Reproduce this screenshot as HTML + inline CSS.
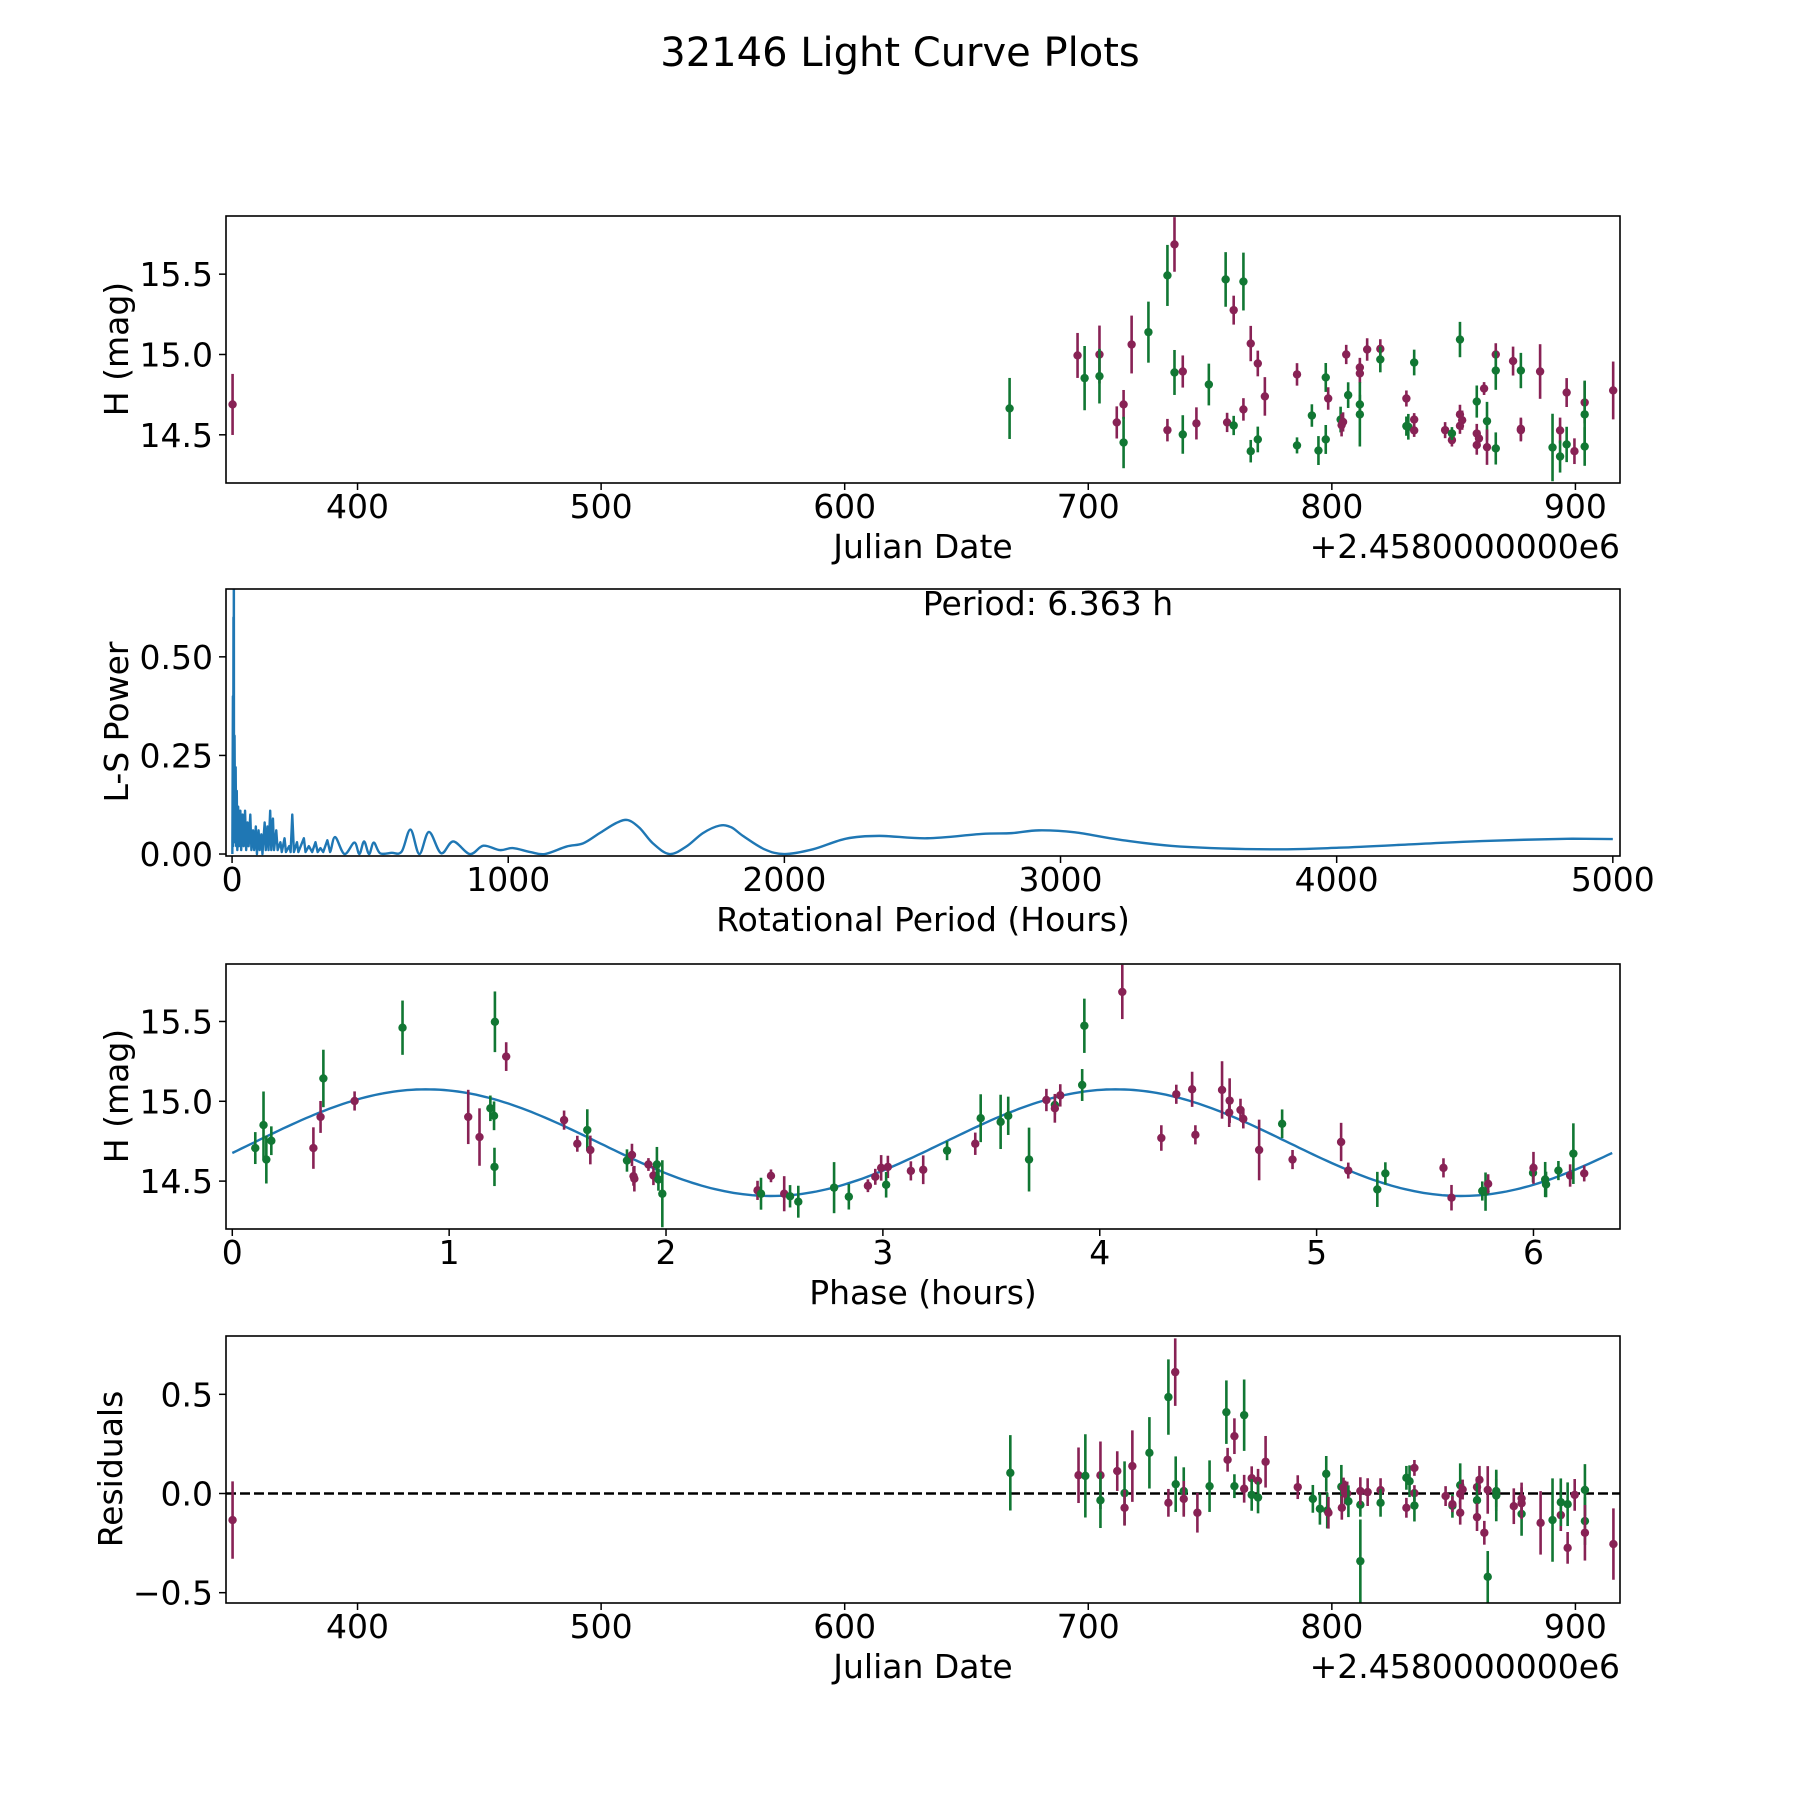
<!DOCTYPE html>
<html><head><meta charset="utf-8"><style>
html,body{margin:0;padding:0;background:#fff;}
svg{display:block;font-family:"DejaVu Sans","Liberation Sans",sans-serif;}
</style></head><body>
<svg id="fig" width="1800" height="1800" viewBox="0 0 1800 1800" xmlns="http://www.w3.org/2000/svg">
<rect width="1800" height="1800" fill="#fff"/>
<text x="900" y="66" font-size="40" text-anchor="middle">32146 Light Curve Plots</text>
</svg>
<script>
// ---- Panel 1: light curve ----
const lcDate=[348.7,667.7,695.6,698.5,704.6,704.6,711.7,714.5,714.5,717.8,724.7,732.5,732.5,735.4,735.4,738.8,738.8,744.4,749.5,756.4,757.0,759.7,759.7,763.7,763.7,766.7,766.7,769.6,769.6,772.5,785.7,785.7,791.8,794.5,797.5,798.5,797.5,803.6,804.0,804.6,805.9,806.7,811.5,811.5,811.5,811.5,814.5,819.9,819.9,830.6,830.6,831.4,833.8,833.8,833.8,846.5,849.3,849.3,852.6,852.6,853.5,852.6,859.5,859.5,860.4,859.5,862.5,863.7,863.7,867.3,867.3,867.3,874.4,877.6,877.6,877.6,885.5,890.6,893.7,893.7,896.4,896.4,899.6,903.8,903.8,903.8,915.5];
const lcMag=[14.689,14.664,14.994,14.853,15.0,14.865,14.577,14.689,14.452,15.062,15.139,15.492,14.529,15.685,14.888,14.894,14.502,14.571,14.813,15.467,14.577,15.276,14.558,15.454,14.658,15.068,14.398,14.944,14.471,14.739,14.876,14.434,14.620,14.402,14.857,14.726,14.471,14.595,14.560,14.58,15.0,14.747,14.919,14.882,14.689,14.627,15.031,15.035,14.969,14.726,14.554,14.55,14.595,14.527,14.950,14.529,14.467,14.508,15.093,14.627,14.591,14.556,14.707,14.508,14.477,14.436,14.788,14.585,14.423,15.0,14.900,14.415,14.959,14.900,14.537,14.529,14.894,14.421,14.527,14.365,14.763,14.44,14.398,14.701,14.627,14.427,14.776];
const lcErr=[0.19,0.19,0.14,0.20,0.18,0.17,0.10,0.09,0.16,0.18,0.19,0.19,0.07,0.17,0.14,0.10,0.12,0.10,0.13,0.17,0.06,0.09,0.06,0.18,0.07,0.11,0.07,0.08,0.08,0.12,0.07,0.05,0.07,0.09,0.09,0.07,0.09,0.08,0.07,0.06,0.06,0.08,0.06,0.06,0.06,0.20,0.07,0.06,0.08,0.05,0.06,0.08,0.04,0.04,0.08,0.05,0.04,0.04,0.11,0.06,0.06,0.05,0.10,0.06,0.05,0.06,0.04,0.12,0.11,0.07,0.12,0.10,0.09,0.11,0.07,0.07,0.17,0.21,0.08,0.10,0.09,0.11,0.08,0.13,0.21,0.12,0.18];
const lcBand="mgmgmgmmgm"+"ggmmgmgmgg"+"mmggmmgmgm"+"mggggmggmm"+"mgmmggmmgm"+"ggmmgmmggm"+"mmgmmmmgmm"+"ggmgmmmgmg"+"mgmmggm";
const dateTicks=[400,500,600,700,800,900];
const magTicks=[14.5,15.0,15.5];
const magTickLabels=["14.5","15.0","15.5"];

// ---- Panel 2: periodogram ----
const lsPeriod=[1,3,4,5,6,6.363,7,9,11,13,15,17,19,22,25,30,33,38,42,47,51,56,60,66,70,76,80,86,90,96,100,106,110,118,122,128,132,138,142,148,152,160,165,175,180,190,195,207,212,218,224,235,240,260,266,278,290,302,310,320,330,345,355,373,407,443,461,478,496,513,536,578,614,646,678,713,757,801,861,910,970,1016,1080,1133,1211,1271,1331,1392,1434,1476,1524,1584,1645,1705,1765,1807,1852,1928,2000,2103,2223,2343,2517,2714,2823,2921,3052,3216,3434,3762,4008,4307,4526,4853,5000];
const lsPower=[0.0,0.40,0.02,0.60,0.05,0.95,0.05,0.30,0.03,0.22,0.02,0.16,0.01,0.12,0.02,0.11,0.01,0.10,0.02,0.11,0.01,0.08,0.02,0.10,0.01,0.06,0.01,0.07,0.0,0.06,0.01,0.05,0.0,0.08,0.01,0.07,0.01,0.11,0.01,0.09,0.01,0.06,0.01,0.03,0.005,0.04,0.005,0.02,0.005,0.10,0.005,0.03,0.005,0.04,0.005,0.02,0.005,0.03,0.005,0.015,0.005,0.035,0.005,0.043,0.0,0.029,0.0,0.032,0.0,0.029,0.002,0.003,0.006,0.062,0.0,0.056,0.002,0.032,0.0,0.021,0.010,0.015,0.005,0.0,0.019,0.027,0.053,0.079,0.086,0.066,0.027,0.0,0.019,0.053,0.072,0.068,0.045,0.012,0.0,0.012,0.039,0.046,0.040,0.051,0.053,0.060,0.055,0.036,0.019,0.012,0.016,0.026,0.033,0.039,0.038];
const periodTicks=[0,1000,2000,3000,4000,5000];
const powerTicks=[0,0.25,0.5];
const powerTickLabels=["0.00","0.25","0.50"];
const bestPeriodLabel="Period: 6.363 h";

// ---- Panel 3: phased curve ----
const phPhase=[0.106,0.144,0.157,0.180,0.374,0.407,0.420,0.564,0.785,1.088,1.140,1.190,1.207,1.209,1.211,1.263,1.530,1.591,1.637,1.651,1.820,1.843,1.850,1.854,1.919,1.942,1.958,1.965,1.983,2.422,2.438,2.484,2.545,2.572,2.610,2.775,2.843,2.931,2.965,2.992,3.023,3.015,3.129,3.186,3.296,3.426,3.451,3.543,3.578,3.674,3.754,3.793,3.793,3.818,3.919,3.929,4.104,4.284,4.353,4.426,4.441,4.564,4.597,4.599,4.649,4.662,4.735,4.841,4.889,5.113,5.146,5.280,5.317,5.585,5.622,5.764,5.779,5.791,5.998,6.000,6.054,6.058,6.115,6.169,6.184,6.234];
const phMag=[14.707,14.851,14.635,14.753,14.707,14.902,15.143,15.002,15.461,14.902,14.776,14.956,14.909,14.589,15.498,15.280,14.882,14.734,14.820,14.695,14.629,14.664,14.531,14.515,14.604,14.535,14.604,14.510,14.421,14.442,14.421,14.533,14.421,14.405,14.371,14.459,14.402,14.471,14.527,14.583,14.589,14.477,14.564,14.571,14.691,14.734,14.894,14.871,14.909,14.635,15.008,14.977,14.956,15.037,15.102,15.473,15.685,14.770,15.044,15.075,14.790,15.071,14.929,15.004,14.946,14.890,14.695,14.859,14.635,14.745,14.566,14.448,14.548,14.583,14.396,14.438,14.434,14.483,14.552,14.583,14.510,14.479,14.566,14.535,14.672,14.548];
const phErr=[0.10,0.21,0.15,0.09,0.13,0.10,0.18,0.06,0.17,0.17,0.18,0.08,0.09,0.12,0.19,0.09,0.06,0.05,0.13,0.09,0.07,0.07,0.06,0.08,0.04,0.06,0.11,0.07,0.21,0.06,0.10,0.04,0.11,0.07,0.10,0.16,0.08,0.04,0.05,0.08,0.07,0.08,0.06,0.09,0.06,0.07,0.15,0.17,0.12,0.20,0.07,0.06,0.09,0.07,0.10,0.17,0.17,0.08,0.06,0.11,0.06,0.18,0.09,0.14,0.07,0.06,0.19,0.09,0.06,0.12,0.05,0.11,0.07,0.06,0.08,0.06,0.12,0.06,0.06,0.10,0.11,0.08,0.06,0.07,0.19,0.05];
const phBand="ggggmmgmgm"+"mggggmmmgm"+"gmmmmmgggm"+"gmmggggmmm"+"mgmmgmgggg"+"mgmmggmmmm"+"mmmmmmmgmm"+"mggmmggmgm"+"gggmgm";
const phaseTicks=[0,1,2,3,4,5,6];
const modelMean=14.741, modelAmp=0.334, modelPeakPhase=0.894, bestPeriod=6.363;

// ---- Panel 4: residuals ----
const resDate=[348.7,668.0,696.0,698.8,705.0,705.0,711.9,714.9,714.9,718.1,725.1,732.9,732.9,735.7,735.9,739.2,739.2,744.8,749.8,756.7,757.2,760.0,760.0,764.0,764.0,767.1,767.1,769.7,769.7,772.8,786.0,792.2,795.1,797.7,798.1,798.6,803.9,804.1,804.8,805.4,806.3,806.8,811.7,811.7,811.7,814.7,820.0,820.0,830.6,830.6,831.9,833.9,833.9,833.9,846.7,849.5,849.5,852.7,852.7,853.7,852.7,859.6,859.6,860.6,859.6,862.6,864.0,864.0,867.5,867.5,867.5,874.7,877.9,877.9,877.9,885.7,890.6,894.0,894.0,896.8,896.8,899.7,903.9,903.9,903.9,915.6];
const resVal=[-0.134,0.104,0.092,0.089,0.092,-0.034,0.113,0.002,-0.072,0.138,0.205,0.486,-0.047,0.612,0.047,0.012,-0.027,-0.097,0.037,0.410,0.170,0.289,0.037,0.395,0.024,0.077,-0.007,0.064,-0.020,0.160,0.032,-0.027,-0.077,0.099,-0.086,-0.097,0.034,-0.072,0.030,0.005,0.0,-0.039,-0.057,0.012,-0.341,0.007,0.017,-0.047,0.079,-0.072,0.062,0.129,0.002,-0.061,-0.013,-0.062,-0.054,0.042,-0.002,0.020,-0.097,0.032,-0.034,0.069,-0.119,-0.198,0.018,-0.420,0.003,0.012,-0.010,-0.064,-0.103,-0.025,-0.049,-0.148,-0.134,-0.109,-0.044,-0.054,-0.274,-0.007,0.018,-0.139,-0.198,-0.255];
const resErr=[0.195,0.19,0.14,0.21,0.17,0.14,0.10,0.16,0.09,0.18,0.18,0.19,0.07,0.17,0.14,0.12,0.09,0.10,0.13,0.16,0.06,0.09,0.06,0.18,0.07,0.06,0.08,0.06,0.08,0.13,0.06,0.07,0.08,0.09,0.09,0.08,0.11,0.06,0.05,0.06,0.06,0.08,0.06,0.07,0.21,0.07,0.06,0.07,0.06,0.05,0.08,0.04,0.04,0.08,0.05,0.06,0.04,0.11,0.05,0.05,0.06,0.05,0.09,0.07,0.07,0.06,0.12,0.13,0.07,0.10,0.13,0.09,0.11,0.08,0.08,0.16,0.21,0.08,0.12,0.11,0.08,0.08,0.13,0.12,0.14,0.18];
const resBand="mgmgmgmgmm"+"ggmmggmmgg"+"mmggmmgmgm"+"mggggmgmmm"+"mggmgmmggm"+"gmmgmgmgmm"+"mmgmmmmgmg"+"gmgmmmgmgg"+"mmggmm";
const resTicks=[-0.5,0,0.5];
const resTickLabels=["\u22120.5","0.0","0.5"];

const NS="http://www.w3.org/2000/svg";
const svg=document.getElementById('fig');
const COL={m:"#882255",g:"#117733"};
const FS=33;
function mk(tag,attrs,parent){const e=document.createElementNS(NS,tag);for(const k in attrs)e.setAttribute(k,attrs[k]);(parent||svg).appendChild(e);return e;}
const L=226,R=1620;
function makeAxes(name,top,bottom,xmin,xmax,ymin,ymax){
  const g=mk('g',{});
  
  
  const sx=v=>L+(v-xmin)/(xmax-xmin)*(R-L);
  const sy=v=>bottom-(v-ymin)/(ymax-ymin)*(bottom-top);
  const cid='clip-'+name;
  const cp=mk('clipPath',{id:cid},g);mk('rect',{x:L,y:top,width:R-L,height:bottom-top},cp);
  const plot=mk('g',{'clip-path':'url(#'+cid+')'},g);
  return {g,plot,sx,sy,top,bottom};
}
function xTicks(ax,ticks,labels,name){
  ticks.forEach((t,i)=>{const x=ax.sx(t);
    mk('line',{x1:x,x2:x,y1:ax.bottom,y2:ax.bottom+7,stroke:'#000','stroke-width':1.5},ax.g);
    const tx=mk('text',{x:x,y:ax.bottom+35,'font-size':FS,'text-anchor':'middle'},ax.g);
    
    
    tx.textContent=labels?labels[i]:String(t);});
}
function yTicks(ax,ticks,labels,name){
  ticks.forEach((t,i)=>{const y=ax.sy(t);
    mk('line',{x1:L-7,x2:L,y1:y,y2:y,stroke:'#000','stroke-width':1.5},ax.g);
    const tx=mk('text',{x:L-13,y:y+12,'font-size':FS,'text-anchor':'end'},ax.g);
    
    
    tx.textContent=labels[i];});
}
function frame(ax){mk('rect',{x:L,y:ax.top,width:R-L,height:ax.bottom-ax.top,fill:'none',stroke:'#000','stroke-width':1.6},ax.g);}
function label(ax,text,x,y,rot,name,anchor){
  const t=mk('text',{x:x,y:y,'font-size':FS,'text-anchor':anchor||'middle'},ax.g);
  if(rot)t.setAttribute('transform','rotate(-90 '+x+' '+y+')');
  
  
  t.textContent=text;return t;
}
function errPts(ax,xs,ys,es,bands,name){
  xs.forEach((xv,i)=>{const c=COL[bands[i]||'m'];const e=es[i]||0.08;
    const x=ax.sx(xv),y=ax.sy(ys[i]);
    const ln=mk('line',{x1:x,x2:x,y1:ax.sy(ys[i]+e),y2:ax.sy(ys[i]-e),stroke:c,'stroke-width':2.6},ax.plot);
    
    
    const d=mk('circle',{cx:x,cy:y,r:4.2,fill:c},ax.plot);
    
    
  });
}

// Panel 1
const a1=makeAxes('light-curve-panel',216,483,346,918.3,14.20,15.862);
errPts(a1,lcDate,lcMag,lcErr,lcBand,'light-curve');
frame(a1);xTicks(a1,dateTicks,null,'x');yTicks(a1,magTicks,magTickLabels,'y');
label(a1,'Julian Date',923,558,false,'x-axis-title');
label(a1,'+2.4580000000e6',1620,558,false,'x-offset-text','end');
label(a1,'H (mag)',128,349,true,'y-axis-title');

// Panel 2
const a2=makeAxes('periodogram-panel',589,856,-22,5026,-0.005,0.672);
(function(){
  let d='';
  const n=lsPeriod.length;
  const P=lsPeriod.map((p,i)=>[a2.sx(p),a2.sy(lsPower[i])]);
  for(let i=0;i<n;i++){
    if(i===0){d+='M'+P[0][0]+','+P[0][1];continue;}
    if(lsPeriod[i]>360&&i>0&&i<n-1&&lsPeriod[i-1]>340){
      const p0=P[i-2]||P[i-1],p1=P[i-1],p2=P[i],p3=P[i+1]||P[i];
      const c1=[p1[0]+(p2[0]-p0[0])/6,p1[1]+(p2[1]-p0[1])/6],c2=[p2[0]-(p3[0]-p1[0])/6,p2[1]-(p3[1]-p1[1])/6];
      d+='C'+c1+' '+c2+' '+p2;
    } else d+='L'+P[i][0]+','+P[i][1];
  }
  const pth=mk('path',{d:d,fill:'none',stroke:'#1f77b4','stroke-width':2.4,'stroke-linejoin':'round'},a2.plot);
  
  
})();
frame(a2);xTicks(a2,periodTicks,null,'x');yTicks(a2,powerTicks,powerTickLabels,'y');
label(a2,bestPeriodLabel,1048,615,false,'best-period-annotation');
label(a2,'Rotational Period (Hours)',923,931,false,'x-axis-title');
label(a2,'L-S Power',128,722,true,'y-axis-title');

// Panel 3
const a3=makeAxes('phased-curve-panel',964,1229,-0.029,6.399,14.20,15.86);
(function(){
  let d='';
  for(let k=0;k<=300;k++){const p=bestPeriod*k/300;
    const v=modelMean+modelAmp*Math.cos(2*Math.PI*(p-modelPeakPhase)/(bestPeriod/2));
    d+=(k?'L':'M')+a3.sx(p).toFixed(1)+','+a3.sy(v).toFixed(1);}
  const pth=mk('path',{d:d,fill:'none',stroke:'#1f77b4','stroke-width':2.4},a3.plot);
  
  
})();
errPts(a3,phPhase,phMag,phErr,phBand,'phased');
frame(a3);xTicks(a3,phaseTicks,null,'x');yTicks(a3,magTicks,magTickLabels,'y');
label(a3,'Phase (hours)',923,1304,false,'x-axis-title');
label(a3,'H (mag)',128,1096,true,'y-axis-title');

// Panel 4
const a4=makeAxes('residuals-panel',1336,1603,346,918.3,-0.552,0.794);
(function(){const y=a4.sy(0);
  const ln=mk('line',{x1:L,x2:R,y1:y,y2:y,stroke:'#000','stroke-width':2.4,'stroke-dasharray':'10,4'},a4.plot);
  
  })();
errPts(a4,resDate,resVal,resErr,resBand,'residual');
frame(a4);xTicks(a4,dateTicks,null,'x');yTicks(a4,resTicks,resTickLabels,'y');
label(a4,'Julian Date',923,1678,false,'x-axis-title');
label(a4,'+2.4580000000e6',1620,1678,false,'x-offset-text','end');
label(a4,'Residuals',122,1469,true,'y-axis-title');
</script>
</body></html>
